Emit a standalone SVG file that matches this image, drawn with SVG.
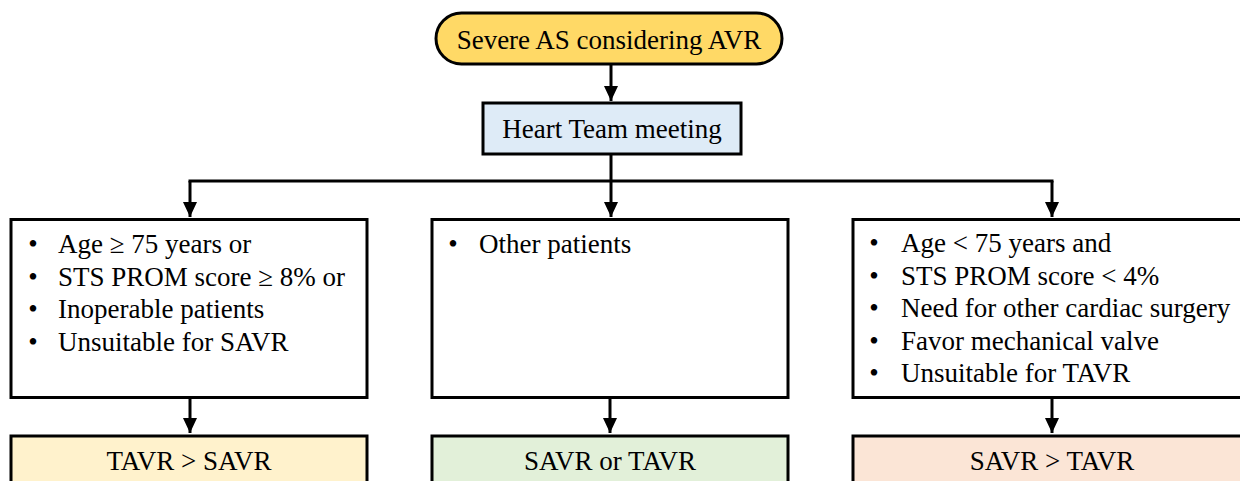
<svg xmlns="http://www.w3.org/2000/svg" width="1240" height="481" viewBox="0 0 1240 481">
<style>
  .box { stroke: #000; stroke-width: 3; }
  .t { font-family: "Liberation Serif", "Times New Roman", serif; font-size: 27px; fill: #000; }
  .c { text-anchor: middle; }
  .b { text-anchor: middle; }
  .conn { stroke: #000; stroke-width: 3; fill: none; }
</style>
<defs>
  <marker id="ah" markerUnits="userSpaceOnUse" markerWidth="16" markerHeight="14" refX="15" refY="7" orient="auto">
    <path d="M0,0 L15,7 L0,14 z" fill="#000"/>
  </marker>
</defs>
<rect width="1240" height="481" fill="#fff"/>

<g id="connectors">
  <line class="conn" x1="611" y1="65" x2="611" y2="101" marker-end="url(#ah)"/>
  <line class="conn" x1="611" y1="155" x2="611" y2="181"/>
  <line class="conn" x1="188.5" y1="181" x2="1053.5" y2="181"/>
  <line class="conn" x1="190" y1="181" x2="190" y2="217" marker-end="url(#ah)"/>
  <line class="conn" x1="611" y1="181" x2="611" y2="217" marker-end="url(#ah)"/>
  <line class="conn" x1="1052" y1="181" x2="1052" y2="217" marker-end="url(#ah)"/>
  <line class="conn" x1="190" y1="398" x2="190" y2="433" marker-end="url(#ah)"/>
  <line class="conn" x1="610" y1="398" x2="610" y2="433" marker-end="url(#ah)"/>
  <line class="conn" x1="1052" y1="398" x2="1052" y2="433" marker-end="url(#ah)"/>
</g>

<g id="start">
  <rect class="box" x="436" y="13" width="346" height="51" rx="25.5" fill="#FFD966" stroke-width="3.5"/>
  <text class="t c" x="609" y="49">Severe AS considering AVR</text>
</g>

<g id="heart-team">
  <rect class="box" x="483" y="103" width="258" height="51" fill="#DEEBF7"/>
  <text class="t c" x="612" y="138">Heart Team meeting</text>
</g>

<g id="criteria-tavr">
  <rect class="box" x="11" y="219.5" width="356" height="178" fill="#fff"/>
  <text class="t b" x="33" y="253">•</text>
  <text class="t" x="58" y="253">Age ≥ 75 years or</text>
  <text class="t b" x="33" y="285.5">•</text>
  <text class="t" x="58" y="285.5">STS PROM score ≥ 8% or</text>
  <text class="t b" x="33" y="318">•</text>
  <text class="t" x="58" y="318">Inoperable patients</text>
  <text class="t b" x="33" y="350.5">•</text>
  <text class="t" x="58" y="350.5">Unsuitable for SAVR</text>
</g>

<g id="criteria-other">
  <rect class="box" x="432" y="219.5" width="356" height="178" fill="#fff"/>
  <text class="t b" x="453" y="253">•</text>
  <text class="t" x="479" y="253">Other patients</text>
</g>

<g id="criteria-savr">
  <rect class="box" x="853" y="219.5" width="400" height="178" fill="#fff"/>
  <text class="t b" x="874" y="252">•</text>
  <text class="t" x="901" y="252">Age &lt; 75 years and</text>
  <text class="t b" x="874" y="284.5">•</text>
  <text class="t" x="901" y="284.5">STS PROM score &lt; 4%</text>
  <text class="t b" x="874" y="317">•</text>
  <text class="t" x="901" y="317">Need for other cardiac surgery</text>
  <text class="t b" x="874" y="349.5">•</text>
  <text class="t" x="901" y="349.5">Favor mechanical valve</text>
  <text class="t b" x="874" y="382">•</text>
  <text class="t" x="901" y="382">Unsuitable for TAVR</text>
</g>

<g id="result-tavr">
  <rect class="box" x="11" y="436" width="356" height="60" fill="#FFF2CC"/>
  <text class="t c" x="189" y="470">TAVR &gt; SAVR</text>
</g>

<g id="result-either">
  <rect class="box" x="432" y="436" width="356" height="60" fill="#E2F0D9"/>
  <text class="t c" x="610" y="470">SAVR or TAVR</text>
</g>

<g id="result-savr">
  <rect class="box" x="853" y="436" width="400" height="60" fill="#FBE5D6"/>
  <text class="t c" x="1052" y="470">SAVR &gt; TAVR</text>
</g>
</svg>
